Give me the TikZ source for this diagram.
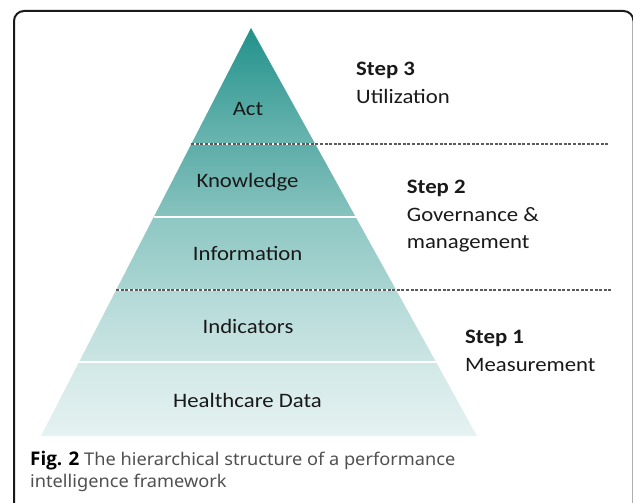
\documentclass[tikz,border=0pt]{standalone}
\usepackage{fontspec}
\setmainfont{Carlito}[FakeStretch=1.11]
\newfontfamily\capfont{Noto Sans}[FakeStretch=1.04]
\newfontfamily\capboldfont{Open Sans}[FakeStretch=1.0]
\usetikzlibrary{calc}
\definecolor{frameblack}{HTML}{1A1A1A}
\definecolor{dashgray}{HTML}{5A5A5A}
\definecolor{capgray}{HTML}{505050}
\definecolor{tA}{HTML}{22918B}
\definecolor{tB}{HTML}{6BB5B0}
\definecolor{tC}{HTML}{5DADA8}
\definecolor{tD}{HTML}{88C3BF}
\definecolor{tE}{HTML}{8EC7C3}
\definecolor{tF}{HTML}{A9D5D2}
\definecolor{tG}{HTML}{B2D9D7}
\definecolor{tH}{HTML}{CBE5E3}
\definecolor{tI}{HTML}{D1E8E7}
\definecolor{tJ}{HTML}{E5F2F1}
\tikzset{
  layerlabel/.style={inner sep=0pt, anchor=base, font=\fontsize{20.5}{27}\selectfont, text=black!90},
  steptext/.style={inner sep=0pt, anchor=base west, font=\fontsize{20.5}{27.5}\selectfont, text=black!90},
  captext/.style={inner sep=0pt, anchor=base west, font=\capfont\fontsize{17.5}{21.6}\selectfont, text=capgray},
  sepline/.style={white, line width=2pt},
  levelline/.style={dashgray, line width=1.1pt, dash pattern=on 3pt off 1.6pt},
}
\begin{document}
\begin{tikzpicture}[x=1pt,y=-1pt]
\useasboundingbox (0,0) rectangle (633,503);
% frame
\draw[frameblack, line width=2pt, rounded corners=10pt] (14,530) -- (14,11) -- (633.5,11) -- (633.5,530);
% pyramid corners
\coordinate (apex) at (251,28);
\coordinate (bl) at (41,436);
\coordinate (br) at (477,436);
% level points along the edges
\foreach \n/\t in {a/0.2843, b/0.4632, c/0.6422, d/0.8186}{
  \coordinate (l\n) at ($(apex)!\t!(bl)$);
  \coordinate (r\n) at ($(apex)!\t!(br)$);
}
% layers
\shade[top color=tA, bottom color=tB] (apex) -- (ra) -- (la) -- cycle;
\shade[top color=tC, bottom color=tD] (la) -- (ra) -- (rb) -- (lb) -- cycle;
\shade[top color=tE, bottom color=tF] (lb) -- (rb) -- (rc) -- (lc) -- cycle;
\shade[top color=tG, bottom color=tH] (lc) -- (rc) -- (rd) -- (ld) -- cycle;
\shade[top color=tI, bottom color=tJ] (ld) -- (rd) -- (br) -- (bl) -- cycle;
% separators
\draw[sepline] (lb) -- (rb);
\draw[sepline] (ld) -- (rd);
\draw[sepline] (la) -- (ra);
\draw[sepline] (lc) -- (rc);
\coordinate (ea) at (608,144);
\coordinate (ec) at (612,290);
\draw[levelline] (la) -- (la -| ea);
\draw[levelline] (lc) -- (lc -| ec);
% layer labels
\node[layerlabel] (act) at (248,116) {Act};
\node[layerlabel] (know) at (247.5,188) {Knowledge};
\node[layerlabel] (info) at (247.7,260) {Information};
\node[layerlabel] (ind) at (248,333.3) {Indicators};
\node[layerlabel] (data) at (247.5,407.3) {Healthcare Data};
% steps
\node[steptext] (s3a) at (356,76) {\textbf{Step 3}};
\node[steptext] (s3b) at (356,103) {Utilization};
\node[steptext] (s2a) at (406.7,193.3) {\textbf{Step 2}};
\node[steptext] (s2b) at (406.7,221.3) {Governance \&};
\node[steptext] (s2c) at (406.7,248.3) {management};
\node[steptext] (s1a) at (465,343.3) {\textbf{Step 1}};
\node[steptext] (s1b) at (465,371.3) {Measurement};
% caption
\node[captext] (cap1) at (30,465.7)
  {{\capboldfont\bfseries\fontsize{18.8}{21.6}\selectfont\color{black}Fig. 2} The hierarchical structure of a performance};
\node[captext] (cap2) at (30,487.3) {intelligence framework};
\end{tikzpicture}
\end{document}
